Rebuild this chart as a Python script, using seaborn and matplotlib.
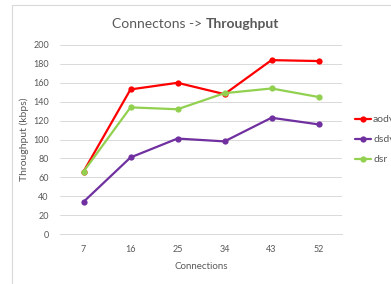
from matplotlib import pyplot as plt
from matplotlib.patches import Rectangle
import seaborn as sns
import pandas as pd
import numpy as np

connections = ["7", "16", "25", "34", "43", "52"]
aodv = [66, 153, 160, 148, 184, 183]
dsdv = [34, 81, 101, 98, 123, 116]
dsr = [66, 134, 132, 149, 154, 145]

series_names = ["aodv", "dsdv", "dsr"]
cores = {"aodv": "#ff0000", "dsdv": "#7030a0", "dsr": "#92d050"}

dados = pd.DataFrame({
    "Connections": connections * 3,
    "Throughput": aodv + dsdv + dsr,
    "serie": np.repeat(series_names, len(connections))
})

sns.set_style("white")
plt.rcParams["font.family"] = ["Lato", "DejaVu Sans"]
texto = "#595959"

figure = plt.figure(figsize = (3.91, 2.84), dpi = 100)
axis = figure.add_axes([60 / 391, 1 - 234 / 284, 282 / 391, 189 / 284])

sns.lineplot(
    data = dados,
    x = "Connections",
    y = "Throughput",
    hue = "serie",
    palette = cores,
    marker = "o",
    markersize = 4.5,
    markeredgewidth = 0,
    linewidth = 1.6,
    ax = axis,
    legend = False
)

axis.set_xlim(-0.5, 5.5)
axis.set_ylim(0, 200)
axis.set_yticks(np.arange(0, 201, 20))
axis.grid(axis = "y", color = "#d9d9d9", linewidth = 0.7)
axis.set_axisbelow(True)
for lado in ["left", "right", "top"]:
    axis.spines[lado].set_visible(False)
axis.spines["bottom"].set_color("#d9d9d9")
axis.spines["bottom"].set_linewidth(0.7)
axis.tick_params(axis = "both", length = 0, labelsize = 6.5, labelcolor = texto, pad = 8)
axis.set_xlabel("Connections", fontsize = 7, color = texto, labelpad = 6)
axis.set_ylabel("Throughput (kbps)", fontsize = 7.5, color = texto, labelpad = 3)

# titulo com parte em negrito
figure.text(0.525, 0.915, "Connectons -> ", ha = "right", va = "center", fontsize = 10, color = texto)
figure.text(0.525, 0.915, "Throughput", ha = "left", va = "center", fontsize = 10, color = texto, fontweight = "bold")

# legenda cortada na borda direita, como na referencia
for i, nome in enumerate(series_names):
    y = 1 - (119 + i * 20) / 284
    figure.add_artist(plt.Line2D([355 / 391, 371 / 391], [y, y], color = cores[nome], linewidth = 1.6))
    figure.add_artist(plt.Line2D([363 / 391], [y], color = cores[nome], marker = "o", markersize = 4.5, markeredgewidth = 0))
    figure.text(373 / 391, y, nome, ha = "left", va = "center", fontsize = 7.5, color = texto)

figure.add_artist(Rectangle((12 / 391, -0.1), 1.2, 1 - 5 / 284 + 0.1, transform = figure.transFigure,
                            fill = False, edgecolor = "#d9d9d9", linewidth = 0.8))

figure.savefig("out.png", dpi = 100)
